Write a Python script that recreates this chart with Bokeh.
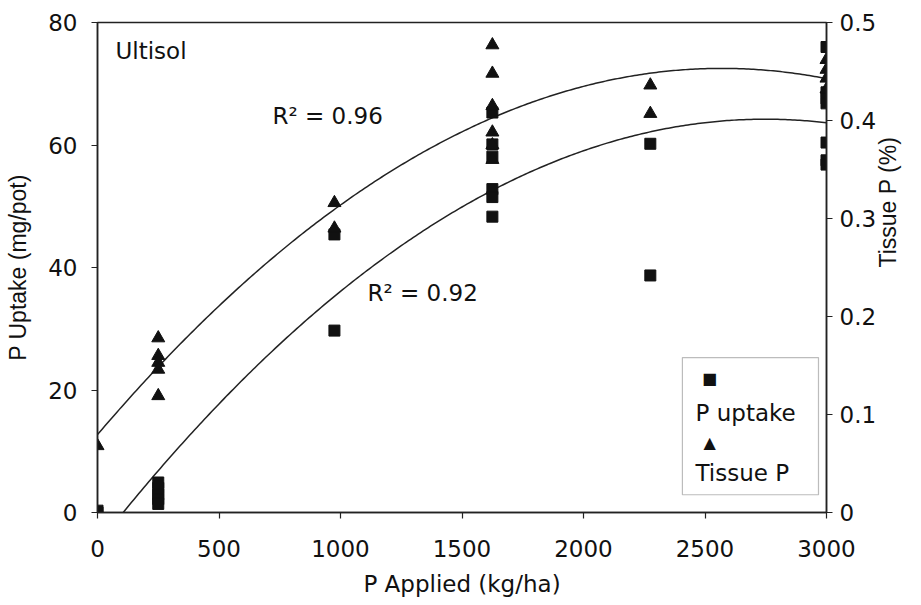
import numpy as np
from bokeh.plotting import figure
from bokeh.models import (Range1d, LinearAxis, FixedTicker, CustomJSTickFormatter,
                          Label, BoxAnnotation)
from bokeh.embed import file_html
from bokeh.resources import INLINE

# ---------------- data ----------------
uptake_x = [0, 0,
            250, 250, 250, 250, 250,
            975, 975,
            1625, 1625, 1625, 1625, 1625, 1625,
            2275, 2275,
            3000, 3000, 3000, 3000, 3000, 3000, 3000]
uptake_y = [0.0, 0.3,
            4.9, 4.0, 3.0, 2.2, 1.4,
            45.4, 29.7,
            65.3, 60.1, 58.1, 52.8, 51.5, 48.3,
            60.2, 38.7,
            76.0, 68.6, 67.6, 66.8, 60.4, 57.5, 56.8]

tissue_x = [0,
            250, 250, 250, 250, 250,
            975, 975,
            1625, 1625, 1625, 1625, 1625, 1625,
            2275, 2275,
            3000, 3000, 3000, 3000]
tissue_y = [0.068,
            0.178, 0.160, 0.153, 0.146, 0.119,
            0.316, 0.290,
            0.477, 0.448, 0.415, 0.388, 0.375, 0.360,
            0.436, 0.407,
            0.462, 0.452, 0.443, 0.432]

x_ticks = [0, 500, 1000, 1500, 2000, 2500, 3000]
left_ticks = [0, 20, 40, 60, 80]
right_ticks = [0, 0.1, 0.2, 0.3, 0.4, 0.5]

r2_uptake = "R² = 0.92"
r2_tissue = "R² = 0.96"

# ---------------- quadratic trend lines fitted to the data ----------------
xs = np.linspace(0, 3000, 301)
fit_up = np.polyval(np.polyfit(uptake_x, uptake_y, 2), xs)
fit_ti = np.polyval(np.polyfit(tissue_x, tissue_y, 2), xs)

FONT_H = "DejaVu Sans"
FONT_V = "Liberation Sans"
FS = "23px"
INK = "#111111"

p = figure(width=921, height=605, x_range=Range1d(0, 3000), y_range=Range1d(0, 80),
           output_backend="svg", toolbar_location=None,
           min_border_left=97, min_border_right=95, min_border_top=22, min_border_bottom=93)
p.extra_y_ranges = {"tissue": Range1d(0, 0.5)}
p.background_fill_color = "white"
p.border_fill_color = "white"
p.outline_line_color = "#222222"
p.outline_line_width = 1.5
p.xgrid.visible = False
p.ygrid.visible = False

def style_axis(ax):
    ax.axis_line_color = "#222222"
    ax.axis_line_width = 1.5
    ax.major_tick_line_color = "#222222"
    ax.major_tick_line_width = 1.2
    ax.major_tick_out = 6
    ax.major_tick_in = 0
    ax.minor_tick_line_color = None
    ax.major_label_text_font = FONT_H
    ax.major_label_text_font_size = FS
    ax.major_label_text_color = INK
    ax.axis_label_text_font_style = "normal"
    ax.axis_label_text_color = INK

xa = p.xaxis[0]
style_axis(xa)
xa.ticker = FixedTicker(ticks=x_ticks)
xa.major_label_standoff = 21
xa.axis_label = "P Applied (kg/ha)"
xa.axis_label_text_font = FONT_H
xa.axis_label_text_font_size = FS
xa.axis_label_standoff = 11

ya = p.yaxis[0]
style_axis(ya)
ya.ticker = FixedTicker(ticks=left_ticks)
ya.major_label_standoff = 14
ya.axis_label = "P Uptake (mg/pot)"
ya.axis_label_text_font = FONT_V
ya.axis_label_text_font_size = FS
ya.axis_label_standoff = 14

ra = LinearAxis(y_range_name="tissue")
style_axis(ra)
ra.ticker = FixedTicker(ticks=right_ticks)
ra.formatter = CustomJSTickFormatter(code="return String(Math.round(tick*10)/10)")
ra.major_label_standoff = 7
ra.axis_label = "Tissue P (%)"
ra.axis_label_text_font = FONT_V
ra.axis_label_text_font_size = FS
ra.axis_label_standoff = 9
try:
    ra.axis_label_orientation = float(np.pi / 2)
except Exception:
    pass
p.add_layout(ra, "right")

# ---------------- trend lines ----------------
p.line(xs, fit_up, line_color="#222222", line_width=1.5)
p.line(xs, fit_ti, line_color="#222222", line_width=1.5, y_range_name="tissue")

# ---------------- points ----------------
p.scatter(uptake_x, uptake_y, marker="square", size=11, fill_color=INK, line_color=INK)
p.scatter(tissue_x, tissue_y, marker="triangle", size=13, fill_color=INK, line_color=INK,
          y_range_name="tissue")

# ---------------- texts ----------------
p.add_layout(Label(x=74, y=75.4, text="Ultisol", text_font=FONT_H, text_font_size=FS,
                   text_color=INK, text_baseline="alphabetic"))
p.add_layout(Label(x=720, y=64.8, text=r2_tissue, text_font=FONT_H, text_font_size=FS,
                   text_color=INK, text_baseline="middle"))
p.add_layout(Label(x=1111, y=35.8, text=r2_uptake, text_font=FONT_H, text_font_size=FS,
                   text_color=INK, text_baseline="middle"))

# ---------------- legend (marker above label, as in the reference) ----------------
p.add_layout(BoxAnnotation(left=2407, right=2967, bottom=2.9, top=25.3,
                           fill_color="white", fill_alpha=1.0,
                           line_color="#222222", line_width=1.2, level="annotation"))
p.add_layout(Label(x=2519, y=21.9, text="■", text_font=FONT_H, text_font_size="16px",
                   text_color=INK, text_align="center", text_baseline="middle"))
p.add_layout(Label(x=2461, y=16.2, text="P uptake", text_font=FONT_H, text_font_size=FS,
                   text_color=INK, text_baseline="middle"))
p.add_layout(Label(x=2519, y=11.4, text="▲", text_font=FONT_H, text_font_size="16px",
                   text_color=INK, text_align="center", text_baseline="middle"))
p.add_layout(Label(x=2461, y=6.5, text="Tissue P", text_font=FONT_H, text_font_size=FS,
                   text_color=INK, text_baseline="middle"))

open("out.html", "w").write(file_html(p, INLINE))
